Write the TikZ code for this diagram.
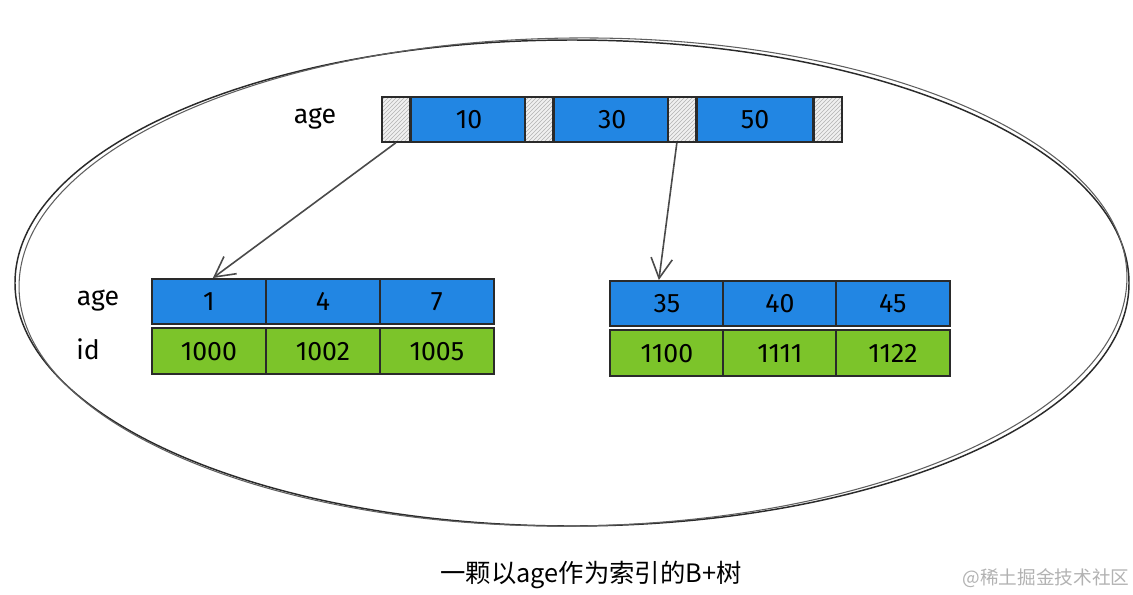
\documentclass[tikz,border=0pt]{standalone}
\usepackage{fontspec}
\setmainfont{Fira Sans}
\newfontfamily\cjk{Noto Sans CJK SC}
\usetikzlibrary{positioning,patterns,arrows.meta}
\definecolor{keyblue}{HTML}{2286E3}
\definecolor{idgreen}{HTML}{7CC42A}
\definecolor{ink}{HTML}{2A2A2A}
\def\px{0.75pt}
\tikzset{
    cell/.style={draw=ink, line width=1.3pt, inner sep=0pt, minimum height={45*\px}, font=\fontsize{20}{24}\selectfont},
    keybox/.style={cell, fill=keyblue, minimum width={115*\px}},
    hatchbox/.style={cell, minimum width={28*\px}, preaction={fill=gray!12}, pattern=north east lines, pattern color=gray!60},
    agebox/.style={cell, fill=keyblue, minimum width={114*\px}},
    idbox/.style={cell, fill=idgreen, minimum width={114*\px}, minimum height={46*\px}},
    lbl/.style={font=\fontsize{20}{24}\selectfont},
    ptr/.style={draw=ink!85, line width=1.2pt, -{Straight Barb[length=15pt,width=16pt]}}
}
\begin{document}
\begin{tikzpicture}[x=\px, y=-\px]
    \useasboundingbox (0,0) rectangle (1133,594);
    %Rahmen
    \draw[ink, line width=1.1pt] (572,283) ellipse [x radius=557, y radius=243];
    \draw[ink!75, line width=0.8pt, rotate around={0.6:(572,283)}] (573,282) ellipse [x radius=554, y radius=244];

    %Wurzel
    \node[lbl] (rootlbl) at (315,119) {age};
    \foreach[count=\i] \a in {10, 30, 50} {
        \node[hatchbox, anchor=north west] (h\i) at ({381+(\i-1)*143},96) {};
        \node[keybox, right=0pt of h\i] (k\i) {\a};
    }
    \node[hatchbox, right=0pt of k3] (h4) {};

    %Blaetter links
    \node[lbl] (lage) at (98,301) {age};
    \node[lbl] (lid) at (88,349) {id};
    \foreach[count=\i] \a/\b in {1/1000, 4/1002, 7/1005} {
        \node[agebox, anchor=north west] (la\i) at ({151+(\i-1)*114},278) {\a};
        \node[idbox, below=2pt of la\i] (li\i) {\b};
    }%links
    \foreach[count=\i] \a/\b in {35/1100, 40/1111, 45/1122} {
        \node[agebox, anchor=north west] (ra\i) at ({609+(\i-1)*113},280) {\a};
        \node[idbox, below=2pt of ra\i] (ri\i) {\b};
    }%rechts

    %Zeiger
    \draw[ptr] (h1.south) -- ([xshift=4*\px]la1.north);
    \draw[ptr] ([xshift=-5*\px]h3.south) -- ([xshift=-8*\px]ra1.north);

    %Unterschrift
    \node[font=\cjk\fontsize{19}{22}\selectfont] (cap) at (591,575) {一颗以age作为索引的B+树};
    \node[font=\cjk\fontsize{14}{16}\selectfont, text=gray!60] (mark) at (1046,578) {@稀土掘金技术社区};
\end{tikzpicture}
\end{document}
